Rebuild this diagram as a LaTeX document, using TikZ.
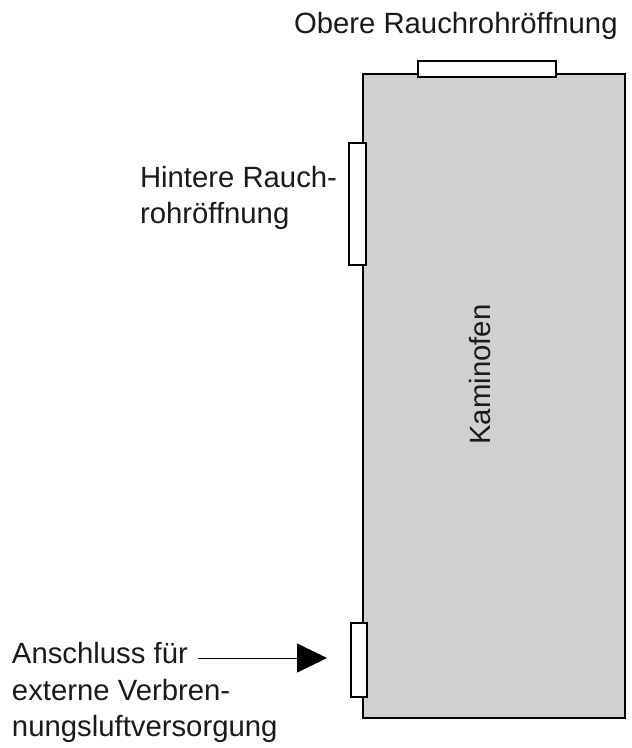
\documentclass[tikz,border=0pt]{standalone}
\usepackage{fontspec}
\setmainfont{Liberation Sans}
\usetikzlibrary{arrows.meta}
\definecolor{ofengray}{HTML}{D0D0D0}
\definecolor{txt}{HTML}{1A1A1A}
\tikzset{
  lbl/.style={anchor=base west, inner sep=0pt, outer sep=0pt, text=txt, font=\fontsize{29.3}{36}\selectfont},
  ofenbox/.style={draw=black, line width=2pt, fill=ofengray, inner sep=0pt, outer sep=0pt},
  opening/.style={draw=black, line width=1.5pt, fill=white, inner sep=0pt, outer sep=0pt},
  pointer/.style={line width=1pt, -{Triangle[length=30pt,width=29pt]}}
}
\begin{document}
\begin{tikzpicture}[x=1pt,y=-1pt]
\useasboundingbox (0,0) rectangle (632,748);
% stove body
\node[ofenbox, minimum width=262pt, minimum height=644pt] (ofen) at (494,396) {};
% openings
\node[opening, minimum width=138pt, minimum height=16pt] (top) at (487,69) {};
\node[opening, minimum width=17pt, minimum height=122pt] (back) at (357.5,204) {};
\node[opening, minimum width=16pt, minimum height=74pt] (air) at (359,660) {};
% labels
\node[lbl] (obere) at (294,33) {Obere Rauchrohröffnung};
\node[lbl] (hinten1) at (140,187) {Hintere Rauch-};
\node[lbl] (hinten2) at (140,223) {rohröffnung};
\node[lbl] (ansch1) at (12,663) {Anschluss für};
\node[lbl] (ansch2) at (12,700) {externe Verbren-};
\node[lbl] (ansch3) at (12,736) {nungsluftversorgung};
\node[anchor=base, rotate=90, inner sep=0pt, text=txt, font=\fontsize{29.3}{36}\selectfont] (kamin) at (490,374.5) {Kaminofen};
% arrow
\coordinate (astart) at (198,658);
\coordinate (atip) at (327,658);
\draw[pointer] (astart) -- (atip);
\end{tikzpicture}
\end{document}
